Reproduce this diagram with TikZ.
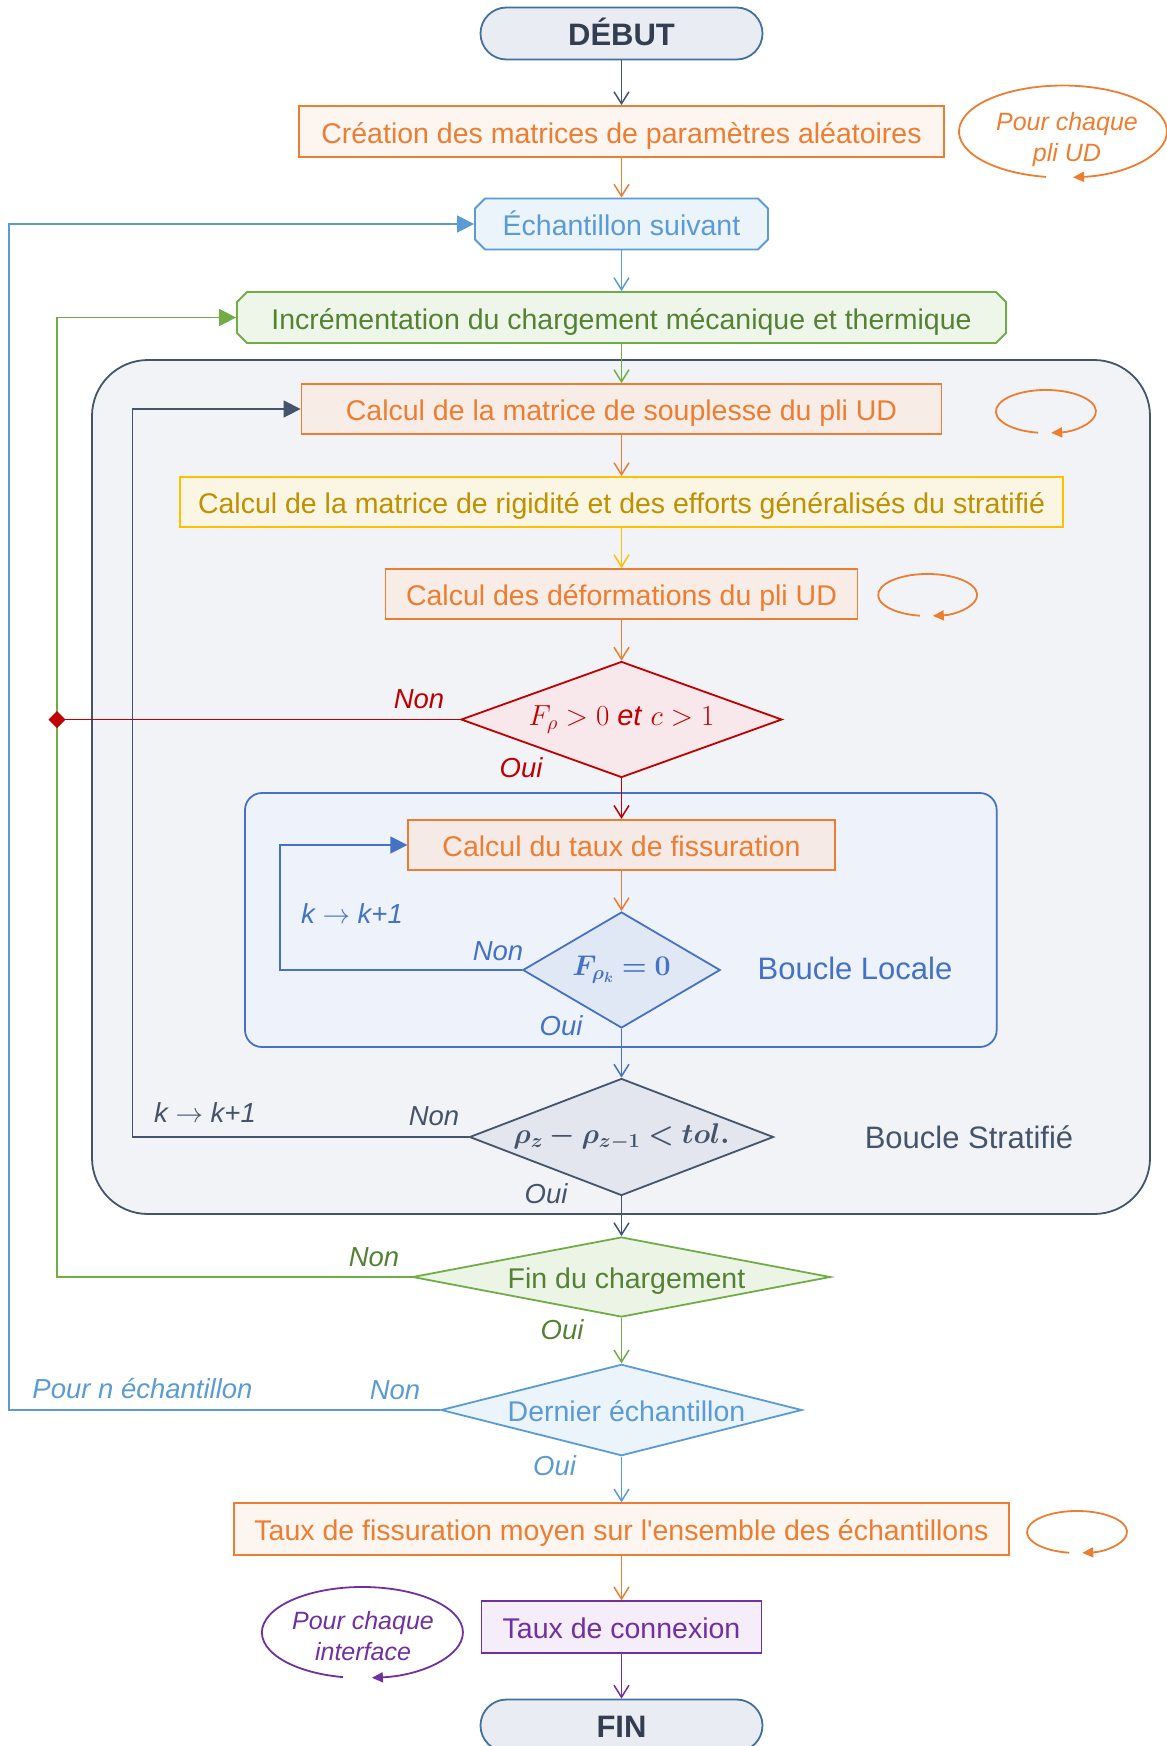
\RequirePackage{fix-cm}
\documentclass[tikz,border=0pt]{standalone}
\usepackage{fontspec}
\setmainfont{Liberation Sans}
\usepackage{bm}
\usetikzlibrary{arrows.meta,shapes.geometric,calc}
\definecolor{cDark}{HTML}{44546A}
\definecolor{cDebF}{HTML}{E9ECF2}
\definecolor{cDebB}{HTML}{41719C}
\definecolor{cDebT}{HTML}{333F50}
\definecolor{cOr}{HTML}{ED7D31}
\definecolor{cOrFa}{HTML}{FCF5F0}
\definecolor{cOrFb}{HTML}{F8ECE6}
\definecolor{cOrFc}{HTML}{F6EAE6}
\definecolor{cGold}{HTML}{FFC000}
\definecolor{cGoldT}{HTML}{BF9000}
\definecolor{cGoldF}{HTML}{FBF5E3}
\definecolor{cRed}{HTML}{C00000}
\definecolor{cRedF}{HTML}{F8E8EC}
\definecolor{cBl}{HTML}{4472C4}
\definecolor{cBlF}{HTML}{E1E8F5}
\definecolor{cBlReg}{HTML}{EEF2FA}
\definecolor{cLB}{HTML}{5B9BD5}
\definecolor{cLBF}{HTML}{EBF3FB}
\definecolor{cGr}{HTML}{70AD47}
\definecolor{cGrT}{HTML}{548235}
\definecolor{cGrF}{HTML}{EEF6EA}
\definecolor{cGrDF}{HTML}{ECF4E6}
\definecolor{cPu}{HTML}{7030A0}
\definecolor{cPuF}{HTML}{F5EDFA}
\definecolor{cGrayF}{HTML}{F2F3F7}
\definecolor{cGrayDF}{HTML}{E3E6EE}
\begin{document}
\begin{tikzpicture}[x=1pt,y=-1pt,
  box/.style={draw, line width=1.8pt, inner sep=0pt, rectangle, text height=23pt, text depth=0pt, font=\fontsize{28.5}{34}\selectfont},
  obox/.style={box, draw=cOr, text=cOr},
  chamtext/.style={box, draw=none, fill=none},
  chamline/.style={line width=1.8pt},
  stadium/.style={box, rounded corners=26pt, draw=cDebB, fill=cDebF, text=cDebT, minimum width=282pt, minimum height=52pt, text height=24pt, font=\fontsize{31}{36}\selectfont\bfseries},
  diam/.style={draw, line width=1.8pt, inner sep=0pt, diamond, aspect=1},
  frame/.style={draw, line width=1.8pt, inner sep=0pt, rectangle},
  lab/.style={inner sep=0pt, font=\fontsize{27.5}{33}\selectfont\itshape},
  big/.style={inner sep=0pt, font=\fontsize{31}{36}\selectfont},
  ltext/.style={inner sep=0pt, align=center, font=\fontsize{25}{31}\selectfont\itshape},
  flow/.style={line width=1.5pt, -{Straight Barb[length=12pt,width=15pt]}},
  backarr/.style={line width=1.5pt, -{Triangle[length=17pt,width=17pt]}},
  loopy/.style={line width=1.8pt, -{Triangle[length=11pt,width=10pt]}}
]
\useasboundingbox (0,0) rectangle (1167,1746);
% frames
\node[frame, draw=cDark, fill=cGrayF, rounded corners=56pt, minimum width=1058pt, minimum height=854pt] (strat) at (621,787) {};
\node[frame, draw=cBl, fill=cBlReg, rounded corners=17pt, minimum width=751.7pt, minimum height=254pt] (locale) at (620.85,920) {};
% chamfered outlines
\filldraw[chamline, draw=cLB, fill=cLBF] (485,198.5) -- (758,198.5) -- (768,208.5) -- (768,239.5) -- (758,249.5) -- (485,249.5) -- (475,239.5) -- (475,208.5) -- cycle;
\filldraw[chamline, draw=cGr, fill=cGrF] (247,292) -- (996,292) -- (1006,302) -- (1006,333) -- (996,343) -- (247,343) -- (237,333) -- (237,302) -- cycle;
% main nodes
\node[stadium] (debut) at (621.5,33.5) {DÉBUT};
\node[obox, fill=cOrFa, minimum width=645pt, minimum height=51pt] (creation) at (621.5,131.5) {Création des matrices de paramètres aléatoires};
\node[chamtext, text=cLB, minimum width=293pt, minimum height=51pt] (echant) at (621.5,224) {Échantillon suivant};
\node[chamtext, text=cGrT, minimum width=769pt, minimum height=51pt] (incr) at (621.5,317.5) {Incrémentation du chargement mécanique et thermique};
\node[obox, fill=cOrFb, minimum width=640pt, minimum height=50pt] (soupl) at (621.5,409) {Calcul de la matrice de souplesse du pli UD};
\node[box, draw=cGold, fill=cGoldF, text=cGoldT, minimum width=883pt, minimum height=50pt] (rigid) at (621.5,502) {Calcul de la matrice de rigidité et des efforts généralisés du stratifié};
\node[obox, fill=cOrFb, minimum width=472pt, minimum height=50pt] (deform) at (621.5,594) {Calcul des déformations du pli UD};
\node[diam, draw=cRed, fill=cRedF, text=cRed, minimum width=321pt, minimum height=116pt, font=\fontsize{29}{34}\selectfont] (redD) at (621.5,719.5) {\makebox[0pt]{$F_\rho > 0$ \textit{et} $c > 1$}};
\node[obox, fill=cOrFc, minimum width=426.5pt, minimum height=50.5pt] (taux) at (621.5,845) {Calcul du taux de fissuration};
\node[diam, draw=cBl, fill=cBlF, text=cBl, minimum width=197.4pt, minimum height=116pt, font=\fontsize{28.5}{34}\selectfont] (blueD) at (621.5,970) {\makebox[0pt]{$\bm{F_{\rho_k} = 0}$}};
\node[diam, draw=cDark, fill=cGrayDF, text=cDark, minimum width=304pt, minimum height=117pt, font=\fontsize{28.5}{34}\selectfont] (grayD) at (621.5,1137) {\makebox[0pt]{$\bm{\rho_z - \rho_{z-1} < tol.}$}};
\node[diam, draw=cGr, fill=cGrDF, text=cGrT, minimum width=418pt, minimum height=80pt, text height=23pt, text depth=0pt, font=\fontsize{28.5}{34}\selectfont] (greenD) at (621.5,1277) {\makebox[0pt]{\hspace{10pt}Fin du chargement}};
\node[diam, draw=cLB, fill=cLBF, text=cLB, minimum width=361pt, minimum height=91.4pt, text height=23pt, text depth=0pt, font=\fontsize{28.5}{34}\selectfont] (dernD) at (621.5,1410) {\makebox[0pt]{\hspace{10pt}Dernier échantillon}};
\node[obox, fill=cOrFa, minimum width=775pt, minimum height=51.5pt] (moyen) at (621.5,1529) {Taux de fissuration moyen sur l\textquotesingle ensemble des échantillons};
\node[box, draw=cPu, fill=cPuF, text=cPu, minimum width=280pt, minimum height=51.5pt] (connex) at (621.5,1627) {Taux de connexion};
\node[stadium] (fin) at (621.5,1725.5) {FIN};
% vertical connectors
\draw[flow, cDark] (debut) -- (creation);
\draw[flow, cOr] (creation) -- (echant);
\draw[flow, cLB] (echant) -- (incr);
\draw[flow, cGr] (incr) -- (soupl);
\draw[flow, cOr] (soupl) -- (rigid);
\draw[flow, cGold] (rigid) -- (deform);
\draw[flow, cOr] (deform) -- (redD);
\draw[flow, cRed] (redD) -- (taux);
\draw[flow, cOr] (taux) -- (blueD);
\draw[flow, cBl] (blueD) -- (grayD);
\draw[flow, cDark] (grayD) -- (greenD);
\draw[flow, cGr] (greenD) -- (dernD);
\draw[flow, cLB] (dernD) -- (moyen);
\draw[flow, cOr] (moyen) -- (connex);
\draw[flow, cPu] (connex) -- (fin);
% loop connectors
\coordinate (xLB) at (9,800);
\coordinate (xG) at (57,800);
\coordinate (xK) at (132.5,800);
\coordinate (xB) at (280,900);
\coordinate (redEnd) at (48.5,719.5);
\draw[backarr, cLB] (dernD.west) -| (xLB) |- (echant.west);
\draw[backarr, cGr] (greenD.west) -| (xG) |- (incr.west);
\draw[backarr, cDark] (grayD.west) -| (xK) |- (soupl.west);
\draw[backarr, cBl] (blueD.west) -| (xB) |- (taux.west);
\draw[line width=1.5pt, cRed, -{Diamond[length=17pt,width=17pt]}] (redD.west) -- (redEnd);
% loop ellipses
\draw[loopy, cOr] (1046,176.9) arc[start angle=99.4, end angle=444.5, x radius=104, y radius=46];
\draw[loopy, cOr] (1038.1,432.7) arc[start angle=99, end angle=444, x radius=50, y radius=21.5];
\draw[loopy, cOr] (919.9,615.7) arc[start angle=99, end angle=444, x radius=49.5, y radius=21];
\draw[loopy, cOr] (1069.2,1552.7) arc[start angle=99, end angle=444, x radius=50, y radius=21];
\draw[loopy, cPu] (342.9,1677.1) arc[start angle=101.2, end angle=444.6, x radius=100.5, y radius=45.5];
\node[ltext, text=cOr] (pc1) at (1067,140) {Pour chaque\\pli UD};
\node[ltext, text=cPu] (pc2) at (363,1636) {Pour chaque\\interface};
% labels
\node[lab, text=cRed] (rnon) at (419,699) {Non};
\node[lab, text=cRed] (roui) at (521,768) {Oui};
\node[lab, text=cBl] (bk) at (352,914) {k $\rightarrow$ k+1};
\node[lab, text=cBl] (bnon) at (498,951) {Non};
\node[lab, text=cBl] (boui) at (561,1026) {Oui};
\node[big, text=cBl] (bloc) at (855,968) {Boucle Locale};
\node[lab, text=cDark] (gk) at (205,1113) {k $\rightarrow$ k+1};
\node[lab, text=cDark] (gnon) at (434,1116) {Non};
\node[lab, text=cDark] (goui) at (546,1194) {Oui};
\node[big, text=cDark] (bstr) at (969,1137) {Boucle Stratifié};
\node[lab, text=cGrT] (vnon) at (374,1257) {Non};
\node[lab, text=cGrT] (voui) at (562,1330) {Oui};
\node[lab, text=cLB] (lnon) at (395,1390) {Non};
\node[lab, text=cLB] (lpour) at (142.5,1388) {Pour n échantillon};
\node[lab, text=cLB] (loui) at (554.6,1465.5) {Oui};
\end{tikzpicture}
\end{document}
